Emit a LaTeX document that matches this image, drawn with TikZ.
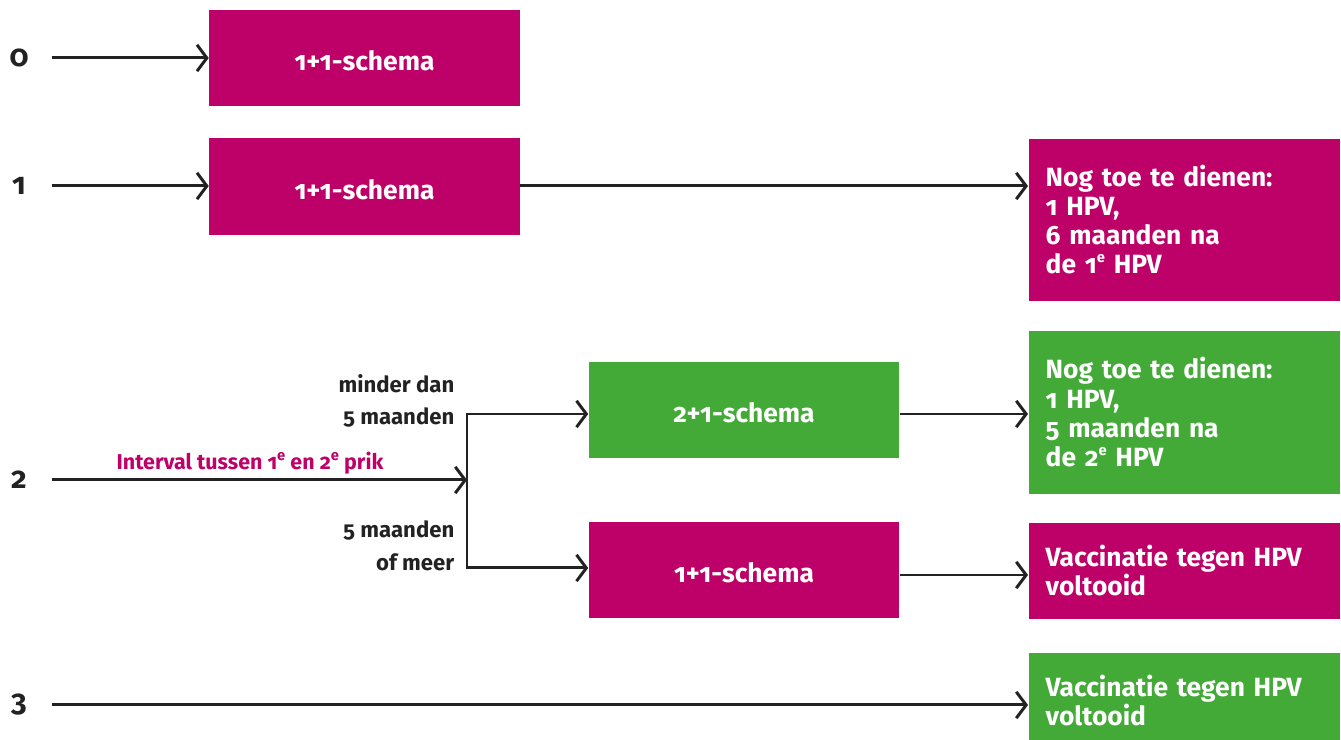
\documentclass[tikz,border=0pt]{standalone}
\usepackage{fontspec}
\setmainfont{Fira Sans}[Numbers=OldStyle]
\usepackage{xcolor}
\usepackage{tikz}
\usetikzlibrary{positioning,arrows.meta}
\definecolor{hpvviolet}{RGB}{190, 0, 105}
\definecolor{hpvgreen}{RGB}{67, 170, 56}
\definecolor{inkdark}{RGB}{34, 34, 34}
\newcommand{\hpvsup}[1]{\raisebox{0.42em}{\fontsize{4.2}{4.2}\selectfont #1}}

\begin{document}
\begin{tikzpicture}[
    x=0.01cm, y=-0.01cm,
    every node/.style={font=\fontsize{7.5}{8.3}\selectfont\bfseries},
    schema/.style={rectangle, text=white, minimum width=3.1cm, minimum height=0.96cm, inner sep=0pt, text height=7.3pt, text depth=0pt},
    advies/.style={rectangle, text=white, anchor=north west, inner xsep=0.17cm, inner ysep=0pt, text width=2.77cm, align=left},
    rij/.style={text=inkdark, minimum width=0.64cm, inner sep=0pt, font=\fontsize{8.6}{9}\selectfont\bfseries},
    keuze/.style={text=inkdark, anchor=east, align=right, inner sep=0pt, font=\fontsize{6.3}{9.3}\selectfont\bfseries},
    pijl/.style={draw=inkdark, line width=0.85pt, -{Straight Barb[length=2.8pt, width=7.5pt, line width=0.85pt]}}
  ]
\useasboundingbox (0,0) rectangle (1341,740);

% rijnummers
\node[rij] (r0) at (19,58) {0};
\node[rij] (r1) at (19,186) {1};
\node[rij] (r2) at (19,480) {2};
\node[rij] (r3) at (19,705) {3};

% schema's
\node[schema, fill=hpvviolet] (b0) at (364.5,58) {1+1-schema};
\node[schema, fill=hpvviolet] (b1) at (364.5,186.5) {1+1-schema};
\node[schema, fill=hpvgreen] (s21) at (744,410) {2+1-schema};
\node[schema, fill=hpvviolet] (s11) at (744,570) {1+1-schema};

% adviezen
\node[advies, fill=hpvviolet, minimum height=1.62cm] (nog1) at (1028,138) {Nog toe te dienen:\\1 HPV,\\6 maanden na\\de 1\hpvsup{e} HPV};
\node[advies, fill=hpvgreen, minimum height=1.63cm] (nog2) at (1028,330) {Nog toe te dienen:\\1 HPV,\\5 maanden na\\de 2\hpvsup{e} HPV};
\node[advies, fill=hpvviolet, minimum height=0.96cm] (klaar1) at (1028,522) {Vaccinatie tegen HPV\\voltooid};
\node[advies, fill=hpvgreen, minimum height=0.96cm] (klaar2) at (1028,652) {Vaccinatie tegen HPV\\voltooid};

% splitsing
\coordinate (split) at (467,480);
\node[keuze] (kort) at (455,401) {minder dan\\5 maanden};
\node[keuze] (lang) at (455,546) {5 maanden\\of meer};
\node[text=hpvviolet, font=\fontsize{6.1}{7}\selectfont\bfseries] (interval) at (250,463) {Interval tussen 1\hpvsup{e} en 2\hpvsup{e} prik};

% pijlen
\draw[pijl] (r0.east) -- (b0.west);
\draw[pijl] (r1.east) -- (r1.east -| b1.west);
\draw[pijl] (b1.east |- r1) -- (r1 -| nog1.west);
\draw[pijl] (r2.east) -- (split);
\draw[pijl] (split) |- ([yshift=-0.04cm]s21.west);
\draw[pijl] (split) |- ([yshift=0.02cm]s11.west);
\draw[pijl] ([yshift=-0.04cm]s21.east) -- ([yshift=-0.04cm]s21.east -| nog2.west);
\draw[pijl] ([yshift=-0.05cm]s11.east) -- ([yshift=-0.05cm]s11.east -| klaar1.west);
\draw[pijl] (r3.east) -- (r3.east -| klaar2.west);

\end{tikzpicture}
\end{document}
